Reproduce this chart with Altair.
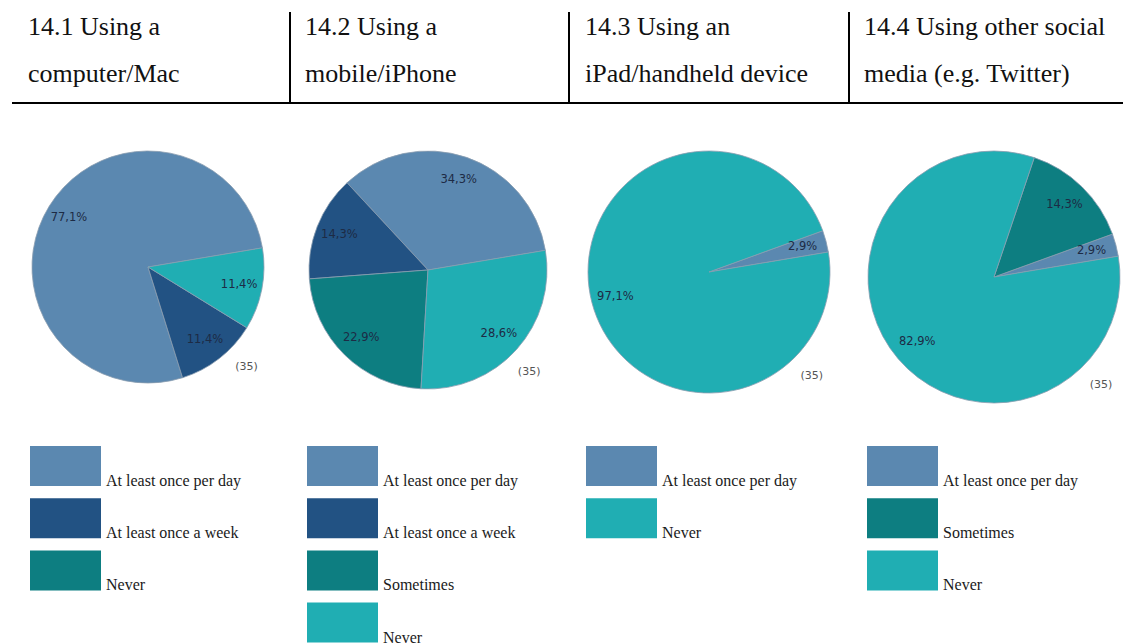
import math
import altair as alt
import pandas as pd

W, H = 1123, 644

# ------------------------------------------------------------------ data
header_line1 = ["14.1 Using a", "14.2 Using a", "14.3 Using an", "14.4 Using other social"]
header_line2 = ["computer/Mac", "mobile/iPhone", "iPad/handheld device", "media (e.g. Twitter)"]

p1_cats = ["At least once per day", "At least once a week", "Never"]
p1_vals = [77.1, 11.4, 11.4]

p2_cats = ["At least once per day", "At least once a week", "Sometimes", "Never"]
p2_vals = [34.3, 14.3, 22.9, 28.6]

p3_cats = ["At least once per day", "Never"]
p3_vals = [2.9, 97.1]

p4_cats = ["At least once per day", "Sometimes", "Never"]
p4_vals = [2.9, 14.3, 82.9]

respondents = [35, 35, 35, 35]

# ------------------------------------------------------------------ styles / layout
all_cats = ["At least once per day", "At least once a week", "Sometimes", "Never"]
palette = ["#5B88B0", "#225283", "#0D7E81", "#20AEB3"]
cat_color = dict(zip(all_cats, palette))
# the printed legend of panel 14.1 shows the "Never" swatch in dark teal
legend_color_override = {(0, "Never"): "#0D7E81"}

pie_cx = [148, 428, 709, 994]
pie_cy = [267, 270, 272, 277]
pie_r = [116, 119, 121, 126]
start_angle = math.radians(80.5)

header_x = [28, 305, 585, 864]
header_y = [35, 82]
sep_x = [290, 569, 849]
legend_x = [30, 307, 586, 867]
legend_top = 446
legend_step = 52.2
swatch_w, swatch_h = 71, 40

serif = "Liberation Serif"
sans = "DejaVu Sans"

XS = alt.Scale(domain=[0, W], range=[0, W], nice=False, zero=False)
YS = alt.Scale(domain=[0, H], range=[0, H], nice=False, zero=False)

panels = [(p1_cats, p1_vals), (p2_cats, p2_vals), (p3_cats, p3_vals), (p4_cats, p4_vals)]

layers = []

# ---- header texts
hdr_rows = []
for i in range(4):
    hdr_rows.append({"x": header_x[i], "y": header_y[0], "t": header_line1[i]})
    hdr_rows.append({"x": header_x[i], "y": header_y[1], "t": header_line2[i]})
hdr = alt.Chart(pd.DataFrame(hdr_rows)).mark_text(
    align="left", baseline="alphabetic", font=serif, fontSize=26, color="#111111"
).encode(
    x=alt.X("x:Q", scale=XS, axis=None),
    y=alt.Y("y:Q", scale=YS, axis=None),
    text="t:N",
)
layers.append(hdr)

# ---- separators
vsep = alt.Chart(pd.DataFrame({"x": sep_x, "y": [12] * 3, "y2": [103] * 3})).mark_rule(
    color="#000000", strokeWidth=2
).encode(
    x=alt.X("x:Q", scale=XS, axis=None),
    y=alt.Y("y:Q", scale=YS, axis=None),
    y2="y2:Q",
)
hsep = alt.Chart(pd.DataFrame({"x": [12], "x2": [W], "y": [103]})).mark_rule(
    color="#000000", strokeWidth=2
).encode(
    x=alt.X("x:Q", scale=XS, axis=None),
    x2="x2:Q",
    y=alt.Y("y:Q", scale=YS, axis=None),
)
layers += [vsep, hsep]

# ---- pies
color_enc = alt.Color("cat:N", scale=alt.Scale(domain=all_cats, range=palette), legend=None)
for i, (cats, vals) in enumerate(panels):
    df = pd.DataFrame({
        "cat": cats,
        "value": vals,
        "idx": list(range(len(cats))),
        "label": [f"{v:.1f}".replace(".", ",") + "%" for v in vals],
    })
    theta = alt.Theta(
        "value:Q", stack=True,
        scale=alt.Scale(range=[start_angle + 2 * math.pi, start_angle]),
    )
    base = alt.Chart(df).encode(
        theta=theta,
        order=alt.Order("idx:Q"),
        x=alt.value(pie_cx[i]),
        y=alt.value(pie_cy[i]),
    )
    arc = base.mark_arc(radius=pie_r[i], stroke="#8a9db0", strokeWidth=0.8).encode(color=color_enc)
    txt = base.mark_text(
        radius=pie_r[i] * 0.8, font=sans, fontSize=11.5, color="#1d2b45"
    ).encode(text="label:N")
    layers += [arc, txt]

# ---- respondent counts
n_df = pd.DataFrame({
    "x": [pie_cx[i] + pie_r[i] * 0.85 for i in range(4)],
    "y": [pie_cy[i] + pie_r[i] * 0.86 for i in range(4)],
    "t": [f"({n})" for n in respondents],
})
ntxt = alt.Chart(n_df).mark_text(font=sans, fontSize=11, color="#555555").encode(
    x=alt.X("x:Q", scale=XS, axis=None),
    y=alt.Y("y:Q", scale=YS, axis=None),
    text="t:N",
)
layers.append(ntxt)

# ---- legends
leg_rows = []
for i, (cats, vals) in enumerate(panels):
    for r, c in enumerate(cats):
        top = legend_top + r * legend_step
        leg_rows.append({
            "x": legend_x[i], "x2": legend_x[i] + swatch_w,
            "y": top, "y2": top + swatch_h,
            "tx": legend_x[i] + swatch_w + 5, "ty": top + swatch_h,
            "cat": c,
            "swatch": legend_color_override.get((i, c), cat_color[c]),
        })
leg_df = pd.DataFrame(leg_rows)
leg_rect = alt.Chart(leg_df).mark_rect().encode(
    x=alt.X("x:Q", scale=XS, axis=None),
    x2="x2:Q",
    y=alt.Y("y:Q", scale=YS, axis=None),
    y2="y2:Q",
    color=alt.Color("swatch:N", scale=None, legend=None),
)
leg_txt = alt.Chart(leg_df).mark_text(
    align="left", baseline="alphabetic", font=serif, fontSize=16, color="#1a1a1a"
).encode(
    x=alt.X("tx:Q", scale=XS, axis=None),
    y=alt.Y("ty:Q", scale=YS, axis=None),
    text="cat:N",
)
layers += [leg_rect, leg_txt]

chart = alt.layer(*layers).resolve_scale(
    theta="independent", color="independent"
).properties(
    width=W, height=H, autosize=alt.AutoSizeParams(type="none"), padding=0,
    background="white",
).configure_view(stroke=None)

chart.save("out.html", embed_options={"renderer": "svg", "actions": False})
